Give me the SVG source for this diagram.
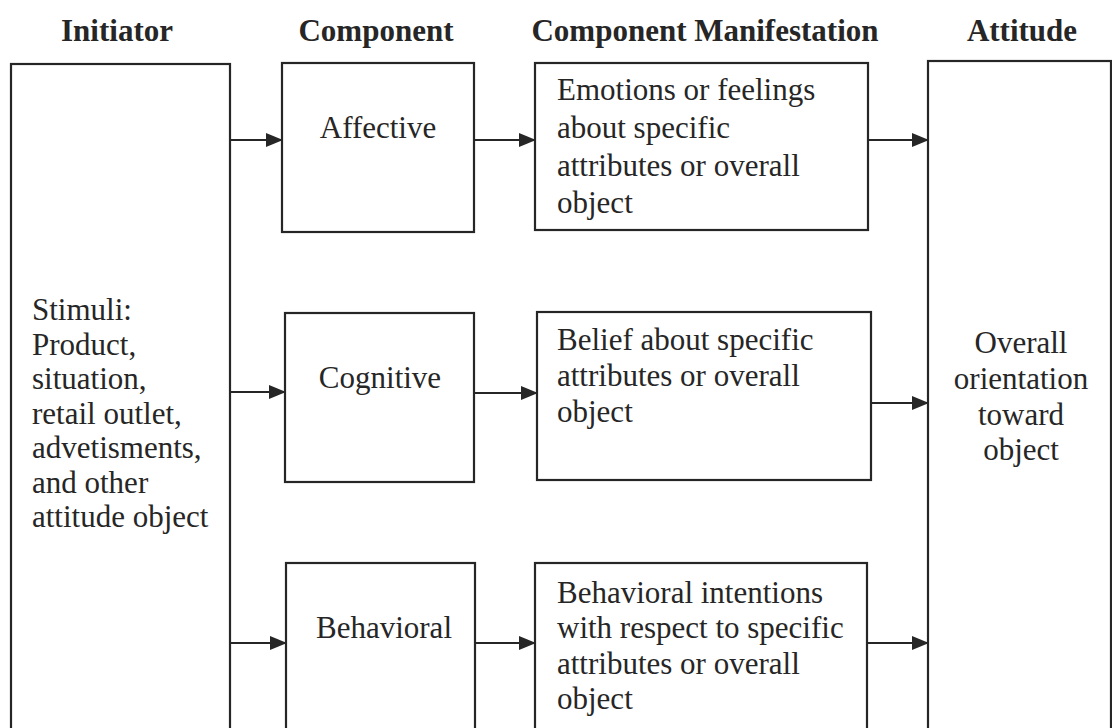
<svg xmlns="http://www.w3.org/2000/svg" width="1112" height="728" viewBox="0 0 1112 728">
<defs>
<style>
.box{fill:#fff;stroke:#262626;stroke-width:2.2}
.hd{font-family:"Liberation Serif","Times New Roman",serif;font-size:31px;font-weight:bold;fill:#262626;text-anchor:middle}
.tx{font-family:"Liberation Serif","Times New Roman",serif;font-size:31px;fill:#262626}
.mid{text-anchor:middle}
.cn{stroke:#262626;stroke-width:2.2;fill:none;marker-end:url(#ah)}
</style>
<marker id="ah" markerUnits="userSpaceOnUse" markerWidth="17" markerHeight="17" viewBox="0 0 17 17" refX="16" refY="8.5" orient="auto">
<path d="M0,1.5 L17,8.5 L0,15.5 Z" fill="#262626"/>
</marker>
</defs>
<rect width="1112" height="728" fill="#fff"/>
<g id="headers">
<text class="hd" x="117" y="41">Initiator</text>
<text class="hd" x="376" y="41">Component</text>
<text class="hd" x="705" y="41">Component Manifestation</text>
<text class="hd" x="1022" y="41">Attitude</text>
</g>
<g id="initiator">
<rect class="box" x="11" y="64" width="219" height="700"/>
<text class="tx"><tspan x="32" y="320">Stimuli:</tspan><tspan x="32" y="354.5">Product,</tspan><tspan x="32" y="389">situation,</tspan><tspan x="32" y="423.5">retail outlet,</tspan><tspan x="32" y="458">advetisments,</tspan><tspan x="32" y="492.5">and other</tspan><tspan x="32" y="527">attitude object</tspan></text>
</g>
<g id="affective">
<rect class="box" x="282" y="63" width="192" height="169"/>
<text class="tx mid" x="378" y="138">Affective</text>
</g>
<g id="cognitive">
<rect class="box" x="285" y="313" width="189" height="169"/>
<text class="tx mid" x="380" y="388">Cognitive</text>
</g>
<g id="behavioral">
<rect class="box" x="286" y="563" width="189" height="200"/>
<text class="tx mid" x="384" y="638">Behavioral</text>
</g>
<g id="manif-affective">
<rect class="box" x="535" y="63" width="333" height="167"/>
<text class="tx"><tspan x="557" y="100">Emotions or feelings</tspan><tspan x="557" y="138">about specific</tspan><tspan x="557" y="176">attributes or overall</tspan><tspan x="557" y="213">object</tspan></text>
</g>
<g id="manif-cognitive">
<rect class="box" x="537" y="312" width="334" height="168"/>
<text class="tx"><tspan x="557" y="350">Belief about specific</tspan><tspan x="557" y="386">attributes or overall</tspan><tspan x="557" y="422">object</tspan></text>
</g>
<g id="manif-behavioral">
<rect class="box" x="535" y="563" width="332" height="200"/>
<text class="tx"><tspan x="557" y="603">Behavioral intentions</tspan><tspan x="557" y="638">with respect to specific</tspan><tspan x="557" y="674">attributes or overall</tspan><tspan x="557" y="709">object</tspan></text>
</g>
<g id="attitude">
<rect class="box" x="928" y="61" width="183" height="700"/>
<text class="tx mid"><tspan x="1021" y="353">Overall</tspan><tspan x="1021" y="389">orientation</tspan><tspan x="1021" y="425">toward</tspan><tspan x="1021" y="460">object</tspan></text>
</g>
<g id="connectors">
<line class="cn" x1="230" y1="140" x2="282" y2="140"/>
<line class="cn" x1="474" y1="140" x2="535" y2="140"/>
<line class="cn" x1="868" y1="140" x2="928" y2="140"/>
<line class="cn" x1="230" y1="392" x2="285" y2="392"/>
<line class="cn" x1="474" y1="393" x2="537" y2="393"/>
<line class="cn" x1="871" y1="403" x2="928" y2="403"/>
<line class="cn" x1="230" y1="643" x2="286" y2="643"/>
<line class="cn" x1="475" y1="643" x2="535" y2="643"/>
<line class="cn" x1="867" y1="643" x2="928" y2="643"/>
</g>
</svg>
